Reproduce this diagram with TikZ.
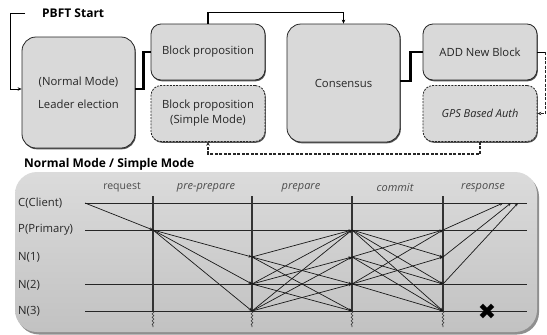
\documentclass[tikz,border=0pt]{standalone}
\usepackage{fontspec}
\setmainfont{Open Sans}
\newfontfamily\symfont{DejaVu Sans}
\usetikzlibrary{shadows,decorations.pathmorphing,arrows.meta,calc}
\definecolor{boxgray}{HTML}{D9D9D9}
\definecolor{panelgray}{HTML}{CFCFCF}
\begin{document}
\begin{tikzpicture}[x=1pt,y=-1pt,
  box/.style={draw=black!85, line width=0.8pt, fill=boxgray, rounded corners=10pt,
    minimum width=114pt, minimum height=56pt, align=center, inner sep=2pt,
    font=\fontsize{11.3}{14}\selectfont, text=black!85,
    drop shadow={shadow xshift=0.8pt, shadow yshift=-1.3pt, fill=black!75, opacity=0.9}},
  dbox/.style={box, dash pattern=on 2pt off 1.2pt},
  title/.style={font=\bfseries\fontsize{12}{14}\selectfont, inner sep=0pt, anchor=west},
  conn/.style={draw=black, line width=1.2pt},
  thickconn/.style={draw=black, line width=2.2pt},
  dconn/.style={draw=black!85, line width=1.2pt, dash pattern=on 3pt off 1.5pt},
  tip/.style={-{Stealth[length=4pt,width=3.5pt]}},
  rowlbl/.style={font=\fontsize{11.3}{13}\selectfont, inner sep=0pt, anchor=west, text=black!85},
  phase/.style={font=\itshape\fontsize{11}{13}\selectfont, text=black!70, inner sep=0pt},
  tl/.style={draw=black!85, line width=0.9pt},
  vl/.style={draw=black!80, line width=1.1pt},
  msg/.style={draw=black!90, line width=0.7pt, -{Stealth[length=3.5pt,width=2.8pt]}},
  panel/.style={rounded corners=22pt, minimum width=522pt, minimum height=160pt,
    top color=black!14, bottom color=black!24, draw=none,
    drop shadow={shadow xshift=2pt, shadow yshift=-2.5pt, fill=black!55, opacity=0.8}},
]
\useasboundingbox (0,0) rectangle (547,335);
\fill[white] (0,0) rectangle (547,335);

% ---------- top flow ----------
\node[box, rounded corners=14pt, minimum width=113pt, minimum height=111pt] (leader) at (78.5,92.5)
  {(Normal Mode)\\[9pt]Leader election};
\node[box] (bp) at (208,52) {Block proposition};
\node[dbox, font=\fontsize{11.3}{15}\selectfont] (bs) at (208,113.5) {Block proposition\\(Simple Mode)};
\node[box, rounded corners=14pt, minimum width=113pt, minimum height=118pt] (cons) at (343.5,83) {Consensus};
\node[box] (add) at (480,52) {ADD New Block};
\node[dbox, font=\itshape\fontsize{11}{13}\selectfont] (gps) at (480,113.5) {GPS Based Auth};

\coordinate (st) at (25,13);
\node[title] (start) at (42,13) {PBFT Start};
\draw[conn, line width=1pt, tip] (st) -- ++(-15,0) |- ([yshift=3.5pt]leader.west);
\draw[thickconn] ([yshift=3.5pt]leader.east) -- ++(8,0) |- (bp.west);
\draw[conn, tip] (bp.north) -- ++(0,-11) -| (cons.north);
\draw[thickconn] ([yshift=2pt]cons.east) -- ++(10,0) |- (add.west);
\draw[conn, line width=1pt] (add.east) -- ++(8,0) coordinate (ag);
\draw[dconn, line width=0.9pt, tip] (ag) |- (gps.east);
\draw[dconn, tip] (gps.south) -- ++(0,12) -| (bs.south);

% ---------- bottom panel ----------
\node[title] (mode) at (24,164) {Normal Mode / Simple Mode};
\node[panel] (panel) at (276,252) {};

\node[phase, font=\fontsize{10.5}{13}\selectfont] (ph0) at (122,187) {request};
\node[phase] (ph1) at (206,188) {pre-prepare};
\node[phase] (ph2) at (301,188) {prepare};
\node[phase] (ph3) at (395,188) {commit};
\node[phase] (ph4) at (483,188) {response};

\node[rowlbl] (lC) at (18,203) {C(Client)};
\node[rowlbl] (lP) at (18,230) {P(Primary)};
\node[rowlbl] (lA) at (18,257) {N(1)};
\node[rowlbl] (lB) at (18,285) {N(2)};
\node[rowlbl] (lD) at (18,311) {N(3)};

% coordinates
\foreach \r/\y in {C/203,P/230,A/257,B/284,D/311}{
  \coordinate (s\r) at (85,\y);
  \coordinate (e\r) at (527,\y);
  \foreach \c/\x in {0/153,1/252,2/352,3/443}{
    \coordinate (p\c\r) at (\x,\y);
  }
}
\foreach \r in {C,P,B,D}{ \draw[tl] (s\r) -- (e\r); }
\foreach \c/\x in {0/153,1/252,2/352,3/443}{
  \coordinate (top\c) at (\x,196);
  \coordinate (bot\c) at (\x,327);
  \draw[vl] (top\c) -- (p\c D);
  \draw[draw=black!80, line width=0.6pt, decorate, decoration={snake, amplitude=0.9pt, segment length=3.5pt}] (p\c D) -- (bot\c);
}

% request
\draw[msg] (sC) -- (p0P);
% pre-prepare
\foreach \t in {A,B,D}{ \draw[msg] (p0P) -- (p1\t); }
% prepare
\foreach \f/\t in {A/P,A/B,A/D,B/P,B/A,B/D,D/P,D/A,D/B}{ \draw[msg] (p1\f) -- (p2\t); }
% commit
\foreach \f/\t in {P/A,P/B,P/D,A/P,A/B,A/D,B/P,B/A,B/D}{ \draw[msg] (p2\f) -- (p3\t); }
% response
\coordinate (r1) at (503,203);
\coordinate (r2) at (511,203);
\coordinate (r3) at (518,203);
\draw[msg] (p3P) -- (r1);
\draw[msg] (p3A) -- (r2);
\draw[msg] (p3B) -- (r3);

\node[font=\symfont\fontsize{22}{22}\selectfont, inner sep=0pt] (crash) at (487,312) {✖};
\end{tikzpicture}
\end{document}
